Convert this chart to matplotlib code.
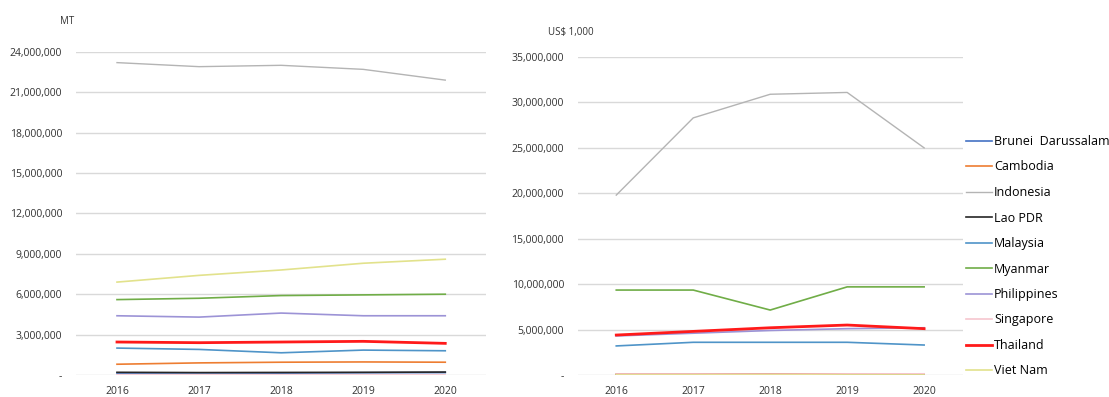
import matplotlib.pyplot as plt
from matplotlib.ticker import FuncFormatter

years = [2016, 2017, 2018, 2019, 2020]
countries = ["Brunei  Darussalam", "Cambodia", "Indonesia", "Lao PDR", "Malaysia",
             "Myanmar", "Philippines", "Singapore", "Thailand", "Viet Nam"]
colores = ["#4472C4", "#ED7D31", "#B4B4B4", "#262626", "#4F94C8",
           "#70AD47", "#9C93D6", "#F6C6CE", "#FF1A1A", "#E2E28C"]
grosor = [1.2, 1.2, 1.0, 1.2, 1.2, 1.2, 1.2, 1.2, 2.0, 1.2]

# produccion (MT)
mt_brunei = [150000, 160000, 150000, 170000, 180000]
mt_cambodia = [800000, 900000, 950000, 970000, 950000]
mt_indonesia = [23200000, 22900000, 23000000, 22700000, 21900000]
mt_lao = [200000, 180000, 190000, 200000, 220000]
mt_malaysia = [2000000, 1900000, 1650000, 1850000, 1800000]
mt_myanmar = [5600000, 5700000, 5900000, 5950000, 6000000]
mt_philippines = [4400000, 4300000, 4600000, 4400000, 4400000]
mt_singapore = [20000, 20000, 20000, 20000, 20000]
mt_thailand = [2450000, 2400000, 2450000, 2500000, 2350000]
mt_vietnam = [6900000, 7400000, 7800000, 8300000, 8600000]

# valor (US$ 1,000)
us_brunei = [60000, 60000, 50000, 60000, 60000]
us_cambodia = [90000, 90000, 80000, 100000, 100000]
us_indonesia = [19800000, 28300000, 30900000, 31100000, 25000000]
us_lao = [50000, 50000, 50000, 50000, 50000]
us_malaysia = [3200000, 3600000, 3600000, 3600000, 3300000]
us_myanmar = [9350000, 9350000, 7150000, 9700000, 9700000]
us_philippines = [4300000, 4600000, 4900000, 5100000, 5200000]
us_singapore = [100000, 100000, 60000, 120000, 130000]
us_thailand = [4400000, 4800000, 5200000, 5500000, 5100000]
us_vietnam = [20000, 20000, 20000, 20000, 20000]

datos_mt = [mt_brunei, mt_cambodia, mt_indonesia, mt_lao, mt_malaysia,
            mt_myanmar, mt_philippines, mt_singapore, mt_thailand, mt_vietnam]
datos_us = [us_brunei, us_cambodia, us_indonesia, us_lao, us_malaysia,
            us_myanmar, us_philippines, us_singapore, us_thailand, us_vietnam]

plt.rcParams['font.family'] = ['Open Sans', 'DejaVu Sans']


def formato(v, pos):
    if v == 0:
        return "-"
    return "{:,.0f}".format(v)


fig = plt.figure(figsize=(11.09, 3.97), dpi=100)
ax1 = fig.add_axes([0.0685, 0.0554, 0.370, 0.814])
ax2 = fig.add_axes([0.521, 0.0554, 0.347, 0.801])


def estilo(ax, top, step):
    ax.set_xlim(2015.5, 2020.5)
    ax.set_ylim(0, top)
    ax.set_yticks(range(0, top + 1, step))
    ax.yaxis.set_major_formatter(FuncFormatter(formato))
    ax.set_xticks(years)
    ax.grid(axis='y', color='#D9D9D9', linewidth=1)
    ax.set_axisbelow(True)
    for s in ax.spines.values():
        s.set_visible(False)
    ax.tick_params(length=0, labelsize=7.5, colors='#333333')
    ax.tick_params(axis='y', pad=10)
    ax.tick_params(axis='x', pad=8)


for i, c in enumerate(countries):
    ax1.plot(years, datos_mt[i], color=colores[i], linewidth=grosor[i], label=c)
    ax2.plot(years, datos_us[i], color=colores[i], linewidth=grosor[i], label=c)

estilo(ax1, 24000000, 3000000)
estilo(ax2, 35000000, 5000000)

fig.text(60 / 1109, 1 - 22 / 397, "MT", fontsize=7, color='#333333', va='center')
fig.text(548 / 1109, 1 - 32 / 397, "US$ 1,000", fontsize=7, color='#333333', va='center')

handles, labels = ax2.get_legend_handles_labels()
fig.legend(handles, labels, loc='upper left', bbox_to_anchor=(966 / 1109, 1 - 135 / 397),
           frameon=False, fontsize=9, handlelength=2.1, handletextpad=0.15,
           labelspacing=1.0, borderaxespad=0, borderpad=0)

fig.savefig("out.png", dpi=100)
